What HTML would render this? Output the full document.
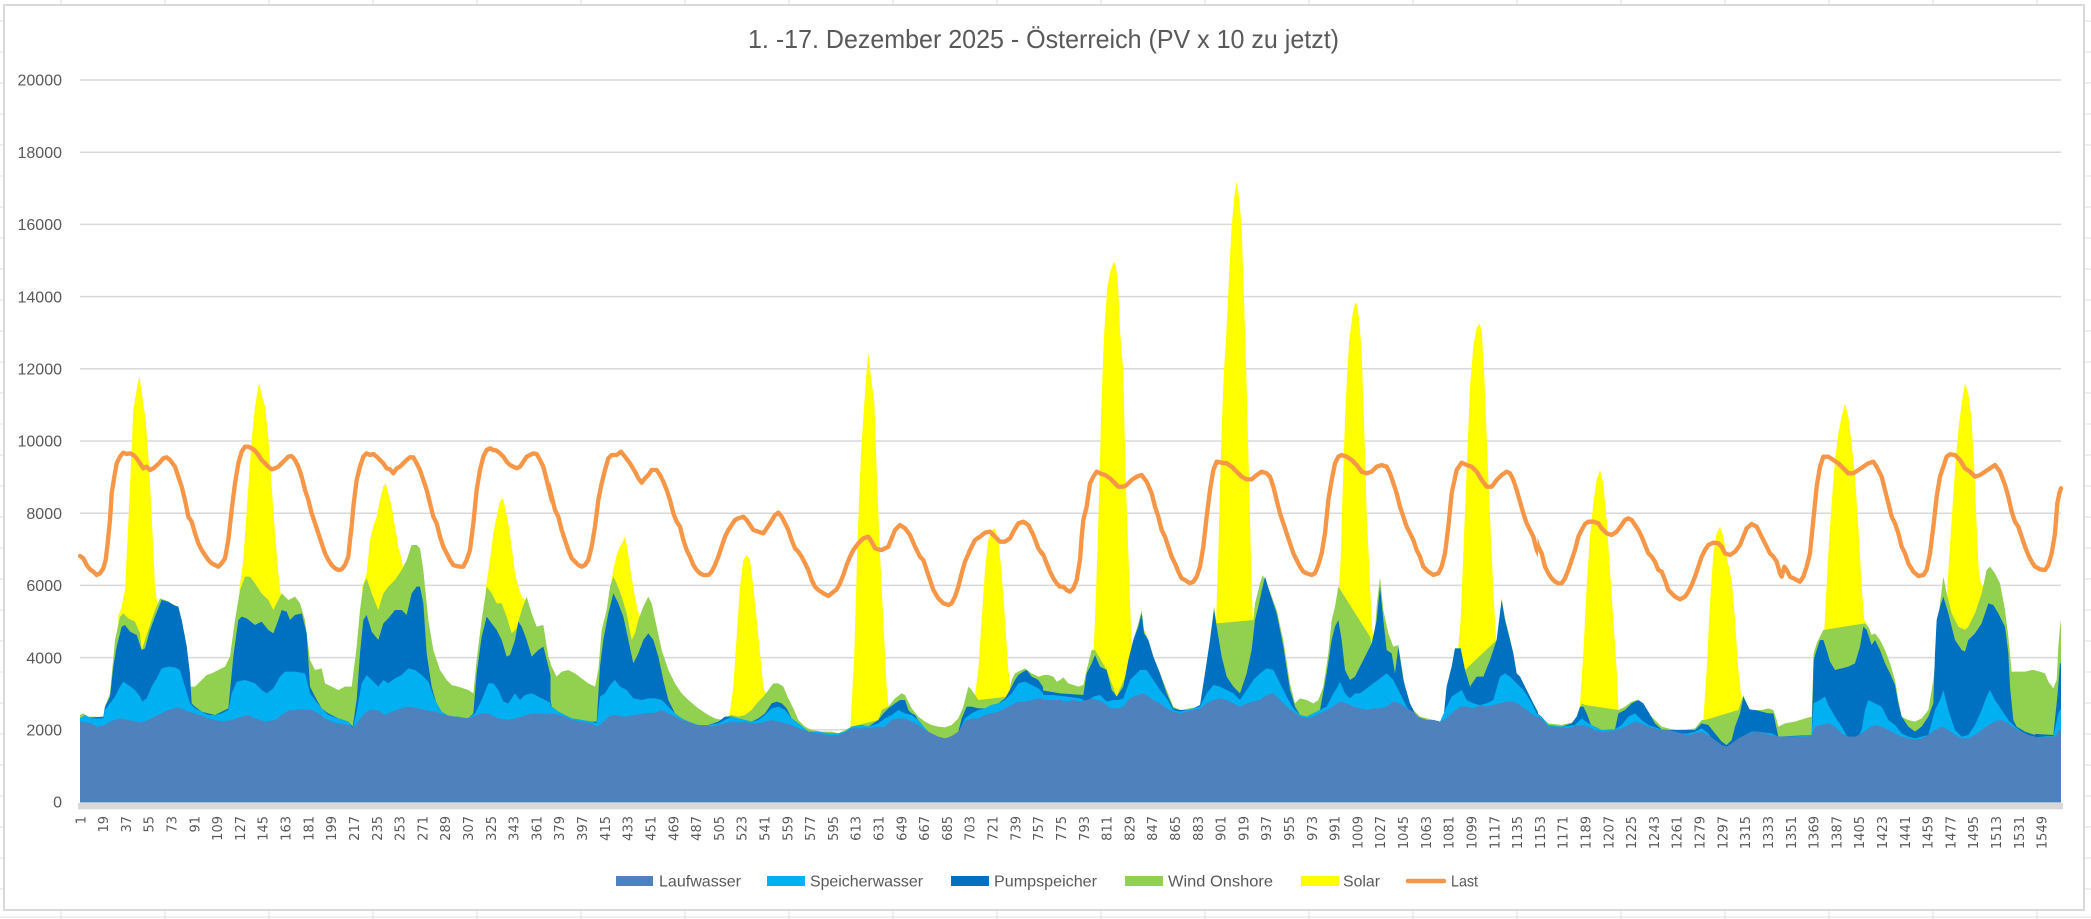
<!DOCTYPE html>
<html><head><meta charset="utf-8"><style>
html,body{margin:0;padding:0;background:#fff;}
svg{display:block;}
.yl{font-family:"Liberation Sans",sans-serif;font-size:16px;fill:#595959;text-anchor:end;}
.xl text{font-family:"DejaVu Sans","Liberation Sans",sans-serif;font-size:13px;fill:#595959;text-anchor:end;}
.lg{font-family:"Liberation Sans",sans-serif;font-size:16px;fill:#595959;}
</style></head><body>
<svg width="2091" height="919" viewBox="0 0 2091 919" xmlns="http://www.w3.org/2000/svg">
<defs>
<clipPath id="cA" clipPathUnits="userSpaceOnUse"><rect x="78" y="0" width="472.5" height="919"/></clipPath>
<clipPath id="cB" clipPathUnits="userSpaceOnUse"><rect x="550" y="0" width="493" height="919"/></clipPath>
<clipPath id="cC" clipPathUnits="userSpaceOnUse"><rect x="1042.5" y="0" width="495.5" height="919"/></clipPath>
<clipPath id="cD" clipPathUnits="userSpaceOnUse"><rect x="1537.5" y="0" width="498" height="919"/></clipPath>
<clipPath id="cE" clipPathUnits="userSpaceOnUse"><rect x="2035" y="0" width="30" height="919"/></clipPath>
</defs>
<!-- spreadsheet grid -->
<g stroke="#e1e1e1" stroke-width="1">
<line x1="61" y1="0" x2="61" y2="919"/><line x1="165" y1="0" x2="165" y2="919"/><line x1="269" y1="0" x2="269" y2="919"/><line x1="373" y1="0" x2="373" y2="919"/><line x1="477" y1="0" x2="477" y2="919"/><line x1="581" y1="0" x2="581" y2="919"/><line x1="685" y1="0" x2="685" y2="919"/><line x1="789" y1="0" x2="789" y2="919"/><line x1="893" y1="0" x2="893" y2="919"/><line x1="997" y1="0" x2="997" y2="919"/><line x1="1101" y1="0" x2="1101" y2="919"/><line x1="1205" y1="0" x2="1205" y2="919"/><line x1="1309" y1="0" x2="1309" y2="919"/><line x1="1413" y1="0" x2="1413" y2="919"/><line x1="1517" y1="0" x2="1517" y2="919"/><line x1="1621" y1="0" x2="1621" y2="919"/><line x1="1725" y1="0" x2="1725" y2="919"/><line x1="1829" y1="0" x2="1829" y2="919"/><line x1="1933" y1="0" x2="1933" y2="919"/><line x1="2037" y1="0" x2="2037" y2="919"/>
<line x1="0" y1="21" x2="2091" y2="21"/><line x1="0" y1="52" x2="2091" y2="52"/><line x1="0" y1="83" x2="2091" y2="83"/><line x1="0" y1="114" x2="2091" y2="114"/><line x1="0" y1="145" x2="2091" y2="145"/><line x1="0" y1="176" x2="2091" y2="176"/><line x1="0" y1="207" x2="2091" y2="207"/><line x1="0" y1="238" x2="2091" y2="238"/><line x1="0" y1="269" x2="2091" y2="269"/><line x1="0" y1="300" x2="2091" y2="300"/><line x1="0" y1="331" x2="2091" y2="331"/><line x1="0" y1="362" x2="2091" y2="362"/><line x1="0" y1="393" x2="2091" y2="393"/><line x1="0" y1="424" x2="2091" y2="424"/><line x1="0" y1="455" x2="2091" y2="455"/><line x1="0" y1="486" x2="2091" y2="486"/><line x1="0" y1="517" x2="2091" y2="517"/><line x1="0" y1="548" x2="2091" y2="548"/><line x1="0" y1="579" x2="2091" y2="579"/><line x1="0" y1="610" x2="2091" y2="610"/><line x1="0" y1="641" x2="2091" y2="641"/><line x1="0" y1="672" x2="2091" y2="672"/><line x1="0" y1="703" x2="2091" y2="703"/><line x1="0" y1="734" x2="2091" y2="734"/><line x1="0" y1="765" x2="2091" y2="765"/><line x1="0" y1="796" x2="2091" y2="796"/><line x1="0" y1="827" x2="2091" y2="827"/><line x1="0" y1="858" x2="2091" y2="858"/><line x1="0" y1="889" x2="2091" y2="889"/><line x1="0" y1="917" x2="2091" y2="917"/>
</g>
<!-- chart frame -->
<rect x="4" y="5" width="2080" height="905" fill="#fff" stroke="#d9d9d9" stroke-width="2"/>
<!-- title -->
<text x="748" y="48" font-family="Liberation Sans, sans-serif" font-size="26" fill="#595959" textLength="591" lengthAdjust="spacingAndGlyphs">1. -17. Dezember 2025 - Österreich (PV x 10 zu jetzt)</text>
<!-- gridlines -->
<g stroke="#d9d9d9" stroke-width="1.5">
<line x1="80" y1="729.8" x2="2061" y2="729.8"/><line x1="80" y1="657.6" x2="2061" y2="657.6"/><line x1="80" y1="585.4" x2="2061" y2="585.4"/><line x1="80" y1="513.2" x2="2061" y2="513.2"/><line x1="80" y1="441" x2="2061" y2="441"/><line x1="80" y1="368.8" x2="2061" y2="368.8"/><line x1="80" y1="296.6" x2="2061" y2="296.6"/><line x1="80" y1="224.4" x2="2061" y2="224.4"/><line x1="80" y1="152.2" x2="2061" y2="152.2"/><line x1="80" y1="80" x2="2061" y2="80"/>
</g>
<!-- y labels -->
<text class="yl" x="62" y="807.7">0</text>
<text class="yl" x="62" y="735.5">2000</text>
<text class="yl" x="62" y="663.3">4000</text>
<text class="yl" x="62" y="591.1">6000</text>
<text class="yl" x="62" y="518.9">8000</text>
<text class="yl" x="62" y="446.7">10000</text>
<text class="yl" x="62" y="374.5">12000</text>
<text class="yl" x="62" y="302.3">14000</text>
<text class="yl" x="62" y="230.1">16000</text>
<text class="yl" x="62" y="157.9">18000</text>
<text class="yl" x="62" y="85.7">20000</text>

<!-- ===== SOLAR ===== -->
<g fill="#FFFF00">
<g clip-path="url(#cA)"><g transform="translate(55 320) scale(0.333333)">
<polygon points="190,1447 190,890 200,860 210,810 218,650 225,500 235,270 245,210 253,168 262,230 272,300 283,450 293,650 300,800 308,860 314,880 314,1447"/>
<polygon points="553,1447 553,810 565,720 580,500 590,360 600,260 612,188 622,230 630,260 640,350 650,500 660,640 670,760 677,820 683,860 683,1447"/>
<polygon points="922,1447 922,800 935,760 945,660 955,620 965,590 975,540 985,500 992,490 1000,520 1010,560 1020,620 1030,680 1040,720 1048,760 1048,1447"/>
<polygon points="1293,1447 1293,800 1305,720 1315,640 1325,590 1335,545 1343,535 1350,560 1360,610 1370,680 1380,760 1390,800 1400,830 1410,840 1410,1447"/>
</g></g>
<g clip-path="url(#cB)"><g transform="translate(545 320) scale(0.333333)">
<polygon points="198,1447 198,790 205,750 215,705 225,680 233,668 240,648 248,690 258,760 268,820 278,870 290,905 290,1447"/>
<polygon points="553,1447 553,1190 565,1100 575,950 585,800 595,720 605,705 615,720 625,800 635,900 645,1000 655,1100 667,1140 667,1447"/>
<polygon points="916,1447 916,1225 928,1000 938,650 948,400 958,250 965,150 970,100 978,170 988,250 995,450 1005,700 1015,900 1025,1100 1033,1180 1033,1447"/>
<polygon points="1288,1447 1288,1140 1300,1050 1310,900 1320,750 1330,660 1340,630 1350,625 1360,660 1370,760 1380,900 1390,1050 1400,1125 1400,1447"/>
</g></g>
<g clip-path="url(#cC)"><g transform="translate(1040 320) scale(0.333333)">
<polygon points="160,1447 160,1000 165,900 172,700 178,500 183,300 188,150 193,30 198,-40 202,-100 205,-115 212,-150 222,-175 228,-160 233,-120 237,-50 240,30 245,100 250,150 253,300 258,500 265,700 272,900 278,1000 278,1447"/>
<polygon points="525,1447 525,1000 530,850 535,700 540,500 546,300 552,150 558,60 562,-20 568,-150 575,-280 583,-370 590,-415 597,-370 605,-280 610,-120 615,30 620,200 625,400 630,600 635,800 640,930 643,960 643,1447"/>
<polygon points="893,1447 893,870 897,800 903,700 905,610 910,450 915,300 922,150 928,60 932,30 938,-20 945,-50 950,-50 955,-20 960,30 965,100 970,250 975,400 980,580 988,750 995,900 1003,1000 1010,1050 1010,1447"/>
<polygon points="1255,1447 1255,980 1262,900 1270,700 1280,450 1290,200 1300,80 1310,25 1318,10 1325,30 1332,150 1340,350 1348,550 1355,700 1362,850 1368,950 1375,1020 1380,1060 1380,1447"/>
</g></g>
<g clip-path="url(#cD)"><g transform="translate(1535 320) scale(0.333333)">
<polygon points="135,1447 135,1150 145,1000 155,800 165,650 175,550 185,480 195,450 205,490 215,600 225,750 235,900 245,1050 252,1200 252,1447"/>
<polygon points="505,1447 505,1200 515,1050 525,850 535,700 545,640 555,620 565,650 575,710 590,780 600,900 610,1050 620,1140 620,1447"/>
<polygon points="868,1447 868,930 880,700 890,550 900,420 910,340 920,290 930,250 940,290 950,370 960,470 970,620 980,800 988,900 995,910 995,1447"/>
<polygon points="1237,1447 1237,800 1250,600 1260,450 1270,330 1280,250 1290,190 1300,220 1310,300 1318,450 1325,620 1332,760 1340,800 1350,790 1350,1447"/>
</g></g>
</g>

<!-- ===== WIND ===== -->
<g fill="#92D050">
<g clip-path="url(#cA)"><g transform="translate(55 320) scale(0.333333)">
<polygon points="75,1185 85,1180 100,1190 120,1190 145,1195 150,1160 165,1120 180,960 195,890 205,880 220,895 240,905 255,940 260,990 280,930 300,870 315,835 330,840 350,850 365,860 380,900 395,975 405,1100 420,1100 440,1080 455,1065 470,1060 490,1050 510,1040 525,1010 540,900 555,810 570,770 585,770 600,790 620,820 640,840 655,870 670,840 680,820 700,840 720,830 735,850 750,900 765,1020 780,1050 800,1045 810,1090 830,1100 850,1110 870,1100 890,1100 905,980 915,870 925,795 935,775 950,820 970,870 985,820 1000,800 1020,780 1040,750 1055,720 1070,675 1085,675 1095,685 1105,750 1120,900 1135,990 1155,1050 1175,1080 1190,1095 1210,1100 1240,1110 1255,1120 1265,1020 1280,900 1295,800 1310,820 1325,850 1340,850 1355,890 1370,940 1385,925 1400,870 1415,830 1430,880 1445,920 1465,915 1480,1010 1495,1050 1500,1060 1500,1447 75,1447"/>
</g></g>
<g clip-path="url(#cB)"><g transform="translate(545 320) scale(0.333333)">
<polygon points="0,940 10,1015 20,1040 35,1070 50,1055 70,1050 90,1060 110,1075 130,1090 150,1100 160,1050 170,930 185,870 195,800 205,770 215,790 230,830 245,880 260,960 270,940 280,900 295,860 310,830 320,850 335,920 350,990 370,1050 390,1090 410,1120 430,1140 460,1165 490,1185 510,1195 530,1200 545,1190 560,1185 580,1190 600,1185 620,1170 640,1145 655,1130 670,1110 685,1090 700,1090 715,1100 730,1135 745,1165 760,1200 780,1220 800,1230 830,1235 860,1235 880,1240 900,1230 920,1220 1000,1200 1010,1170 1030,1160 1050,1135 1070,1120 1080,1125 1100,1165 1120,1190 1140,1205 1160,1215 1180,1220 1200,1222 1220,1215 1240,1195 1255,1160 1270,1100 1280,1110 1290,1125 1300,1140 1390,1130 1400,1080 1410,1060 1420,1055 1440,1045 1460,1060 1480,1070 1500,1065 1500,1447 0,1447"/>
</g></g>
<g clip-path="url(#cC)"><g transform="translate(1040 320) scale(0.333333)">
<polygon points="0,1070 10,1065 25,1065 40,1070 50,1085 60,1080 70,1072 85,1090 100,1095 115,1100 130,1095 140,1050 155,990 165,990 200,1050 230,1130 260,1060 270,1020 280,960 295,910 305,870 312,930 325,960 340,1010 360,1060 380,1110 400,1160 420,1170 480,1160 495,1060 510,960 522,860 530,910 640,900 645,850 660,790 668,765 690,815 710,870 730,960 750,1090 765,1150 780,1135 800,1140 820,1150 835,1140 850,1100 865,1000 875,900 885,860 895,800 990,950 1000,1000 1010,860 1020,770 1030,870 1045,940 1060,980 1075,975 1090,1070 1100,1130 1120,1170 1140,1190 1200,1205 1210,1200 1220,1100 1235,1040 1245,985 1262,985 1275,1050 1370,960 1385,835 1395,895 1410,955 1420,1000 1430,1060 1440,1070 1460,1110 1480,1150 1500,1185 1500,1447 0,1447"/>
</g></g>
<g clip-path="url(#cD)"><g transform="translate(1535 320) scale(0.333333)">
<polygon points="0,1175 40,1210 80,1215 120,1205 140,1150 150,1155 250,1170 270,1160 290,1145 305,1140 320,1155 340,1180 360,1200 380,1220 400,1225 420,1230 440,1232 460,1228 480,1225 500,1200 510,1200 610,1170 625,1125 640,1165 660,1170 680,1170 700,1165 715,1170 725,1200 730,1220 750,1210 780,1205 810,1195 830,1190 836,1000 845,970 855,950 865,930 990,910 1000,920 1010,945 1020,940 1035,960 1050,990 1065,1030 1080,1080 1090,1140 1100,1190 1120,1200 1140,1205 1160,1195 1180,1170 1195,1080 1205,980 1215,850 1225,770 1235,820 1250,880 1270,920 1290,930 1300,920 1320,880 1340,820 1355,750 1365,740 1380,760 1395,790 1410,870 1420,950 1430,1055 1450,1055 1470,1055 1490,1050 1500,1050 1500,1447 0,1447"/>
</g></g>
<g clip-path="url(#cE)"><g transform="translate(1960 330) scale(0.333333)">
<polygon points="200,1025 220,1020 240,1025 255,1030 265,1055 280,1075 290,1050 295,950 300,890 303,870 303,1417 200,1417"/>
</g></g>
</g>

<!-- ===== PUMPSPEICHER ===== -->
<g fill="#0070C0">
<g clip-path="url(#cA)"><g transform="translate(55 320) scale(0.333333)">
<polygon points="75,1195 145,1190 150,1160 165,1130 175,1040 185,980 200,920 210,915 225,935 245,945 260,990 270,985 285,930 300,890 320,840 340,845 355,855 370,860 380,900 395,980 405,1060 410,1150 420,1160 440,1175 460,1180 480,1185 500,1175 520,1165 535,1010 550,900 560,890 575,895 600,915 620,905 640,930 655,940 670,900 680,870 695,875 705,900 720,885 740,880 755,940 765,1100 780,1130 800,1165 820,1180 850,1195 880,1205 893,1220 905,1140 915,1000 925,900 935,885 950,935 970,960 985,910 1000,895 1020,870 1040,870 1055,885 1070,820 1085,800 1095,800 1105,850 1115,1000 1130,1100 1150,1170 1170,1190 1200,1190 1240,1195 1255,1180 1265,1060 1280,950 1295,890 1310,910 1325,930 1340,960 1355,1010 1365,1005 1380,960 1390,905 1400,920 1415,960 1430,1010 1450,990 1465,980 1480,1040 1490,1080 1500,1100 1500,1447 75,1447"/>
</g></g>
<g clip-path="url(#cB)"><g transform="translate(545 320) scale(0.333333)">
<polygon points="0,1080 10,1100 20,1160 40,1175 60,1185 80,1195 110,1200 140,1205 155,1205 165,1040 175,960 190,880 205,820 220,850 235,890 250,960 265,1030 280,1000 295,960 310,940 325,960 340,1010 355,1080 370,1140 390,1180 410,1195 430,1205 460,1215 490,1215 520,1205 540,1190 560,1190 580,1195 600,1200 620,1205 640,1195 660,1180 680,1150 695,1145 710,1150 725,1165 740,1195 760,1210 790,1235 820,1235 850,1240 880,1240 900,1235 920,1220 950,1215 970,1220 1000,1200 1015,1180 1030,1165 1050,1150 1065,1140 1080,1140 1090,1170 1100,1180 1110,1185 1120,1200 1140,1225 1160,1245 1180,1262 1200,1262 1220,1255 1240,1235 1250,1195 1265,1160 1280,1160 1300,1165 1320,1165 1340,1155 1360,1150 1380,1135 1400,1100 1410,1080 1420,1065 1435,1055 1445,1050 1460,1070 1480,1080 1500,1110 1500,1447 0,1447"/>
</g></g>
<g clip-path="url(#cC)"><g transform="translate(1040 320) scale(0.333333)">
<polygon points="0,1110 60,1120 130,1125 140,1060 155,1030 165,1005 180,1040 200,1050 215,1110 230,1130 250,1100 265,1020 280,960 295,920 305,880 312,940 325,960 340,1010 360,1060 380,1120 400,1165 420,1170 440,1170 460,1165 480,1155 495,1060 510,960 522,870 530,920 545,1010 560,1070 580,1100 600,1120 620,1060 635,990 645,900 655,860 668,800 675,770 690,820 710,880 730,980 750,1110 765,1160 780,1185 800,1190 820,1180 840,1170 860,1060 875,960 885,920 895,900 905,960 915,1050 930,1080 945,1070 960,1040 980,1000 995,970 1010,900 1020,800 1030,900 1040,990 1055,1000 1065,1060 1075,980 1090,1080 1110,1150 1130,1190 1160,1200 1180,1200 1200,1205 1210,1200 1220,1100 1235,1040 1245,985 1262,985 1275,1050 1290,1100 1310,1070 1330,1070 1350,1020 1370,960 1385,840 1395,900 1410,960 1420,1000 1430,1060 1440,1070 1460,1110 1480,1150 1500,1190 1500,1447 0,1447"/>
</g></g>
<g clip-path="url(#cD)"><g transform="translate(1535 320) scale(0.333333)">
<polygon points="0,1175 20,1190 40,1215 80,1220 110,1210 125,1190 135,1160 145,1160 155,1180 170,1220 200,1230 240,1228 250,1180 270,1170 290,1150 310,1140 325,1150 340,1175 360,1210 380,1228 400,1230 480,1230 500,1210 520,1215 540,1240 560,1265 575,1275 590,1260 600,1220 615,1180 625,1130 635,1150 645,1170 660,1170 680,1175 700,1180 715,1180 730,1250 830,1245 836,1020 845,990 855,960 865,960 875,990 885,1025 900,1050 920,1045 940,1040 960,1030 975,980 985,920 995,930 1010,975 1020,960 1035,990 1050,1030 1065,1060 1080,1095 1090,1150 1100,1190 1120,1220 1140,1235 1160,1220 1180,1190 1195,1150 1200,1000 1205,900 1215,860 1225,830 1240,880 1260,960 1280,990 1290,995 1300,960 1320,940 1340,910 1360,850 1375,855 1390,880 1400,900 1410,920 1420,1000 1425,1100 1435,1200 1445,1220 1470,1235 1500,1245 1500,1447 0,1447"/>
</g></g>
<g clip-path="url(#cE)"><g transform="translate(1960 330) scale(0.333333)">
<polygon points="200,1210 280,1215 292,1100 300,1000 303,1000 303,1417 200,1417"/>
</g></g>
</g>

<!-- ===== SPEICHERWASSER ===== -->
<g fill="#00B0F0">
<g clip-path="url(#cA)"><g transform="translate(55 320) scale(0.333333)">
<polygon points="75,1195 90,1185 110,1195 145,1195 150,1170 165,1150 180,1130 195,1100 205,1085 220,1095 240,1110 255,1130 262,1145 275,1135 290,1100 305,1075 320,1045 340,1040 360,1042 375,1050 390,1100 405,1150 420,1165 440,1175 460,1185 480,1185 500,1180 520,1170 530,1120 545,1085 570,1080 600,1090 620,1110 635,1120 655,1105 675,1070 690,1055 720,1055 750,1060 765,1120 780,1140 800,1165 820,1185 850,1195 880,1205 893,1225 905,1175 920,1090 935,1065 950,1080 970,1100 985,1080 1000,1090 1020,1075 1040,1065 1060,1045 1080,1050 1100,1065 1120,1085 1140,1140 1160,1175 1185,1190 1210,1190 1240,1195 1260,1180 1280,1140 1300,1090 1315,1090 1330,1110 1345,1145 1360,1150 1380,1120 1395,1140 1410,1125 1430,1120 1450,1130 1470,1140 1490,1150 1500,1155 1500,1447 75,1447"/>
</g></g>
<g clip-path="url(#cB)"><g transform="translate(545 320) scale(0.333333)">
<polygon points="0,1140 20,1160 40,1175 60,1185 80,1195 110,1200 140,1205 155,1210 165,1130 180,1120 195,1095 210,1080 225,1100 245,1110 265,1135 290,1140 310,1135 330,1135 350,1140 370,1160 390,1180 410,1195 430,1205 460,1215 490,1215 520,1210 540,1200 560,1190 580,1195 600,1200 620,1205 640,1200 660,1185 680,1165 700,1160 720,1170 740,1195 760,1210 790,1235 820,1235 850,1240 880,1240 900,1235 920,1220 950,1215 970,1220 1000,1210 1020,1195 1040,1185 1060,1170 1080,1180 1100,1185 1120,1200 1140,1225 1160,1245 1180,1262 1200,1262 1220,1255 1240,1240 1260,1195 1280,1180 1300,1170 1320,1165 1340,1155 1360,1150 1380,1140 1400,1120 1420,1090 1440,1085 1460,1095 1480,1105 1500,1125 1500,1447 0,1447"/>
</g></g>
<g clip-path="url(#cC)"><g transform="translate(1040 320) scale(0.333333)">
<polygon points="0,1125 40,1125 80,1130 120,1135 140,1145 160,1130 180,1125 200,1145 220,1140 235,1140 250,1135 270,1080 290,1060 300,1050 320,1050 340,1080 360,1110 380,1135 400,1170 420,1175 440,1170 460,1165 480,1160 500,1120 520,1095 540,1100 560,1110 580,1120 600,1140 620,1110 640,1080 660,1060 680,1045 700,1050 720,1090 740,1130 760,1165 780,1185 800,1190 820,1180 840,1170 860,1160 880,1120 890,1105 900,1085 915,1120 930,1135 945,1120 960,1120 980,1105 1000,1090 1020,1075 1040,1060 1060,1080 1080,1120 1100,1160 1120,1185 1140,1195 1160,1200 1180,1200 1200,1205 1220,1160 1235,1130 1250,1120 1265,1110 1280,1140 1300,1150 1320,1155 1340,1150 1360,1140 1380,1070 1395,1060 1410,1070 1430,1090 1450,1110 1470,1140 1490,1180 1500,1190 1500,1447 0,1447"/>
</g></g>
<g clip-path="url(#cD)"><g transform="translate(1535 320) scale(0.333333)">
<polygon points="0,1180 20,1190 40,1215 80,1220 120,1215 130,1205 140,1195 160,1210 180,1220 200,1230 220,1230 240,1228 260,1215 280,1190 300,1180 320,1200 340,1215 360,1222 380,1228 400,1230 420,1235 440,1240 460,1240 480,1235 500,1225 520,1240 540,1270 560,1285 575,1290 590,1280 610,1260 630,1245 650,1235 670,1235 690,1238 710,1240 730,1250 750,1250 800,1248 830,1245 836,1150 855,1140 870,1130 880,1155 900,1190 920,1220 940,1255 960,1265 980,1230 990,1170 1000,1140 1020,1150 1040,1160 1060,1200 1080,1215 1100,1240 1120,1250 1140,1255 1160,1250 1180,1245 1200,1170 1215,1140 1225,1110 1240,1170 1260,1230 1280,1250 1300,1245 1320,1215 1340,1170 1355,1130 1365,1110 1380,1140 1400,1170 1420,1200 1440,1220 1460,1235 1480,1245 1500,1250 1500,1447 0,1447"/>
</g></g>
<g clip-path="url(#cE)"><g transform="translate(1960 330) scale(0.333333)">
<polygon points="200,1215 230,1222 260,1218 280,1218 295,1150 303,1135 303,1417 200,1417"/>
</g></g>
</g>

<!-- ===== LAUFWASSER ===== -->
<g fill="#4F81BD">
<g clip-path="url(#cA)"><g transform="translate(55 320) scale(0.333333)">
<polygon points="75,1205 110,1210 125,1220 150,1215 165,1205 195,1195 220,1200 245,1205 260,1208 280,1200 300,1190 320,1180 340,1170 360,1165 370,1162 385,1168 400,1175 420,1180 440,1188 460,1195 480,1200 500,1205 530,1200 560,1190 580,1185 600,1195 630,1205 660,1200 680,1185 700,1172 740,1168 770,1170 790,1180 810,1195 830,1205 860,1212 880,1215 893,1225 905,1210 920,1190 935,1175 950,1168 970,1172 990,1185 1010,1175 1040,1165 1060,1160 1090,1165 1110,1170 1140,1175 1170,1185 1200,1190 1230,1195 1250,1192 1280,1180 1300,1180 1330,1195 1360,1200 1400,1190 1430,1180 1470,1182 1500,1185 1500,1447 75,1447"/>
</g></g>
<g clip-path="url(#cB)"><g transform="translate(545 320) scale(0.333333)">
<polygon points="0,1180 30,1182 60,1190 80,1200 110,1205 140,1210 155,1220 170,1210 190,1190 210,1185 240,1190 270,1185 300,1180 330,1178 350,1170 370,1180 390,1190 410,1200 430,1205 450,1215 480,1215 500,1220 520,1215 540,1210 560,1205 580,1208 600,1205 620,1210 640,1210 660,1205 680,1200 700,1205 720,1210 740,1215 760,1225 790,1235 820,1240 850,1245 880,1245 900,1238 920,1225 950,1225 970,1225 1000,1220 1020,1220 1040,1200 1060,1195 1080,1195 1100,1205 1120,1215 1140,1230 1160,1240 1180,1250 1200,1255 1220,1248 1240,1235 1260,1205 1280,1195 1300,1195 1320,1185 1340,1180 1360,1175 1380,1165 1400,1155 1420,1145 1440,1145 1460,1140 1480,1135 1500,1135 1500,1447 0,1447"/>
</g></g>
<g clip-path="url(#cC)"><g transform="translate(1040 320) scale(0.333333)">
<polygon points="0,1140 20,1140 40,1140 60,1140 80,1145 100,1140 120,1145 140,1140 155,1135 170,1140 185,1145 200,1155 210,1165 220,1165 235,1165 250,1160 265,1140 280,1130 295,1125 310,1120 325,1130 340,1140 360,1150 380,1165 400,1175 420,1180 440,1175 460,1170 480,1165 500,1150 520,1140 540,1135 560,1140 580,1150 600,1160 620,1150 640,1145 660,1140 680,1125 700,1120 720,1140 740,1160 760,1175 780,1190 800,1195 820,1190 840,1180 860,1170 880,1160 900,1145 920,1150 940,1160 960,1165 980,1170 1000,1165 1020,1165 1040,1160 1060,1145 1080,1150 1100,1165 1120,1175 1140,1195 1160,1200 1180,1200 1200,1205 1220,1195 1240,1175 1260,1160 1280,1160 1300,1165 1320,1155 1340,1160 1360,1155 1380,1150 1400,1145 1420,1145 1440,1155 1460,1170 1480,1185 1500,1195 1500,1447 0,1447"/>
</g></g>
<g clip-path="url(#cD)"><g transform="translate(1535 320) scale(0.333333)">
<polygon points="0,1185 20,1195 40,1220 60,1220 80,1222 100,1225 120,1218 140,1215 160,1220 180,1230 200,1235 220,1235 240,1230 260,1225 280,1215 300,1205 320,1210 340,1220 360,1225 380,1230 400,1230 420,1235 440,1240 460,1245 480,1240 500,1235 520,1245 540,1260 560,1275 575,1280 590,1270 610,1255 630,1245 650,1238 670,1235 690,1240 710,1245 730,1250 750,1250 770,1250 790,1250 810,1250 830,1248 840,1220 860,1215 880,1210 900,1220 920,1240 940,1250 960,1250 980,1240 1000,1225 1020,1215 1040,1220 1060,1230 1080,1240 1100,1250 1120,1255 1140,1258 1160,1255 1180,1245 1200,1230 1220,1220 1240,1230 1260,1245 1280,1255 1300,1255 1320,1245 1340,1230 1360,1215 1380,1205 1400,1200 1420,1210 1440,1225 1460,1235 1480,1245 1500,1250 1500,1447 0,1447"/>
</g></g>
<g clip-path="url(#cE)"><g transform="translate(1960 330) scale(0.333333)">
<polygon points="200,1215 230,1222 260,1220 280,1220 290,1215 295,1200 303,1200 303,1417 200,1417"/>
</g></g>
</g>

<!-- x axis band -->
<rect x="78" y="803" width="1985" height="6.3" fill="#d9d9d9"/>

<!-- ===== LAST ===== -->
<g fill="none" stroke="#F79646" stroke-width="13" stroke-linejoin="round" stroke-linecap="round">
<g clip-path="url(#cA)"><g transform="translate(55 320) scale(0.333333)">
<polyline points="75,708 85,715 95,735 105,748 115,755 125,765 135,760 145,745 152,720 158,670 165,600 170,520 178,470 185,430 195,410 205,398 215,402 225,400 235,405 245,415 255,430 265,445 275,440 285,450 295,445 310,432 325,415 335,412 345,420 360,440 370,470 380,500 390,540 400,590 410,605 420,640 430,670 440,690 450,705 460,720 470,730 480,735 490,740 500,730 510,715 520,660 530,570 540,490 550,430 560,395 570,380 580,380 590,385 600,392 610,405 620,420 630,430 640,440 650,448 660,445 670,440 680,430 690,420 700,410 710,408 720,420 730,440 740,470 750,510 760,540 770,580 780,610 790,640 800,670 810,700 820,720 830,735 840,745 850,750 860,748 870,735 880,710 885,660 890,620 895,560 905,480 915,440 925,410 935,400 945,405 955,402 965,410 975,420 985,430 995,445 1005,448 1015,460 1025,445 1035,440 1045,430 1055,420 1065,412 1075,412 1085,430 1095,450 1105,480 1115,510 1125,550 1135,590 1145,610 1155,650 1165,680 1175,700 1185,720 1195,735 1205,738 1215,740 1225,740 1235,720 1245,690 1255,610 1265,510 1275,450 1285,410 1295,390 1305,385 1315,390 1325,392 1335,400 1345,410 1355,425 1365,435 1375,440 1385,445 1395,440 1405,425 1415,410 1425,405 1435,400 1445,402 1455,420 1465,440 1475,480 1485,520 1495,560 1500,580"/>
</g></g>
<g clip-path="url(#cB)"><g transform="translate(545 320) scale(0.333333)">
<polyline points="0,450 10,490 20,530 30,570 40,590 50,630 60,660 70,690 80,715 90,725 100,735 110,740 120,735 130,720 140,680 150,620 160,540 170,490 180,450 190,415 200,405 215,405 228,395 240,410 255,430 270,455 280,475 290,488 300,475 310,465 320,450 335,450 345,465 355,485 365,510 375,540 385,580 395,605 405,620 415,660 425,690 435,710 445,735 455,750 465,760 475,765 490,765 500,755 510,735 520,710 530,680 540,650 550,630 560,615 570,600 580,595 595,590 605,600 615,615 625,630 640,635 655,640 665,625 675,610 690,585 700,578 710,590 720,610 730,630 740,660 750,685 760,695 770,710 780,730 790,750 800,780 810,800 820,810 835,820 850,828 860,820 875,808 885,790 895,765 905,735 915,710 925,690 940,670 955,655 970,650 980,665 990,685 1000,688 1010,690 1020,685 1030,680 1040,655 1050,630 1065,615 1080,625 1095,645 1110,680 1125,710 1135,720 1145,750 1155,780 1165,810 1180,835 1195,850 1210,855 1220,850 1230,830 1240,800 1250,760 1260,725 1275,690 1290,660 1305,650 1320,638 1335,635 1350,650 1365,665 1380,665 1395,655 1405,635 1420,610 1435,605 1450,615 1465,645 1480,685 1490,700 1500,710"/>
</g></g>
<g clip-path="url(#cC)"><g transform="translate(1040 320) scale(0.333333)">
<polyline points="0,690 10,705 20,730 30,755 40,775 50,790 60,800 70,800 80,810 90,815 100,805 110,780 120,720 125,650 130,600 140,560 150,490 160,470 170,455 180,460 195,465 210,475 225,490 235,500 250,500 260,495 275,480 290,470 305,465 320,485 335,520 345,560 355,590 365,630 375,650 385,680 395,710 405,730 415,755 425,775 435,780 450,790 460,785 470,770 480,740 490,680 500,590 510,510 520,450 530,425 545,428 560,430 575,440 590,455 605,470 620,478 635,478 650,465 665,455 680,460 690,470 700,500 710,540 720,580 730,610 740,640 750,670 760,700 770,720 780,740 790,755 800,760 815,765 825,760 835,735 845,700 855,640 865,540 875,480 885,430 895,410 905,405 920,410 935,420 950,435 965,455 980,460 995,455 1010,440 1025,435 1040,440 1050,460 1060,490 1070,520 1080,560 1090,590 1100,620 1110,640 1120,660 1130,690 1140,710 1150,740 1165,755 1180,765 1195,760 1205,740 1215,700 1225,620 1235,520 1250,450 1265,428 1280,435 1295,440 1310,455 1325,480 1340,500 1355,500 1370,480 1385,465 1400,455 1410,460 1420,480 1430,510 1440,545 1450,580 1460,610 1470,630 1480,650 1490,690 1500,710"/>
</g></g>
<g clip-path="url(#cD)"><g transform="translate(1535 320) scale(0.333333)">
<polyline points="0,650 10,680 20,700 30,740 40,760 50,775 60,785 70,790 80,790 90,775 100,750 110,720 120,690 130,650 140,630 150,612 160,605 175,605 190,610 200,625 215,640 230,645 245,635 260,615 270,600 280,595 290,600 300,615 310,630 320,650 330,675 340,700 350,710 360,725 370,750 380,755 390,780 400,810 410,820 420,830 435,838 450,830 460,815 470,795 480,770 490,740 500,710 510,690 520,675 535,668 550,670 560,680 570,700 585,705 600,695 615,675 625,650 635,625 650,612 665,620 675,640 685,660 695,680 705,700 715,710 725,725 735,760 740,770 748,740 755,750 765,770 775,775 785,780 795,785 805,770 815,740 825,700 835,600 845,500 855,440 865,410 880,410 895,420 910,430 925,445 940,460 955,460 970,450 985,440 1000,430 1015,425 1025,440 1040,470 1050,510 1060,550 1070,590 1080,610 1090,640 1100,680 1110,700 1120,730 1135,755 1150,768 1165,765 1175,750 1185,700 1195,620 1205,530 1215,470 1225,440 1235,410 1245,403 1260,405 1275,420 1290,445 1305,455 1320,470 1335,465 1350,455 1365,445 1380,435 1395,455 1410,495 1420,530 1430,575 1440,605 1450,620 1460,650 1470,680 1480,705 1490,725 1500,740"/>
</g></g>
<g clip-path="url(#cE)"><g transform="translate(1960 330) scale(0.333333)">
<polyline points="215,702 225,709 230,712 240,718 255,720 265,705 275,670 285,610 292,520 298,490 303,475"/>
</g></g>
</g>

<!-- x labels (rotated) -->
<g class="xl" transform="rotate(-90)">
<text x="-816" y="85.3">1</text><text x="-816" y="108.1">19</text><text x="-816" y="130.9">37</text><text x="-816" y="153.7">55</text><text x="-816" y="176.5">73</text><text x="-816" y="199.3">91</text><text x="-816" y="222.1">109</text><text x="-816" y="244.9">127</text><text x="-816" y="267.7">145</text><text x="-816" y="290.6">163</text><text x="-816" y="313.4">181</text><text x="-816" y="336.2">199</text><text x="-816" y="359">217</text><text x="-816" y="381.8">235</text><text x="-816" y="404.6">253</text><text x="-816" y="427.4">271</text><text x="-816" y="450.2">289</text><text x="-816" y="473">307</text><text x="-816" y="495.8">325</text><text x="-816" y="518.6">343</text><text x="-816" y="541.4">361</text><text x="-816" y="564.2">379</text><text x="-816" y="587">397</text><text x="-816" y="609.8">415</text><text x="-816" y="632.7">433</text><text x="-816" y="655.5">451</text><text x="-816" y="678.3">469</text><text x="-816" y="701.1">487</text><text x="-816" y="723.9">505</text><text x="-816" y="746.7">523</text><text x="-816" y="769.5">541</text><text x="-816" y="792.3">559</text><text x="-816" y="815.1">577</text><text x="-816" y="837.9">595</text><text x="-816" y="860.7">613</text><text x="-816" y="883.5">631</text><text x="-816" y="906.3">649</text><text x="-816" y="929.1">667</text><text x="-816" y="951.9">685</text><text x="-816" y="974.7">703</text><text x="-816" y="997.5">721</text><text x="-816" y="1020.3">739</text><text x="-816" y="1043.2">757</text><text x="-816" y="1066">775</text><text x="-816" y="1088.8">793</text><text x="-816" y="1111.6">811</text><text x="-816" y="1134.4">829</text><text x="-816" y="1157.2">847</text><text x="-816" y="1180">865</text><text x="-816" y="1202.8">883</text><text x="-816" y="1225.6">901</text><text x="-816" y="1248.4">919</text><text x="-816" y="1271.2">937</text><text x="-816" y="1294">955</text><text x="-816" y="1316.8">973</text><text x="-816" y="1339.6">991</text><text x="-816" y="1362.4">1009</text><text x="-816" y="1385.2">1027</text><text x="-816" y="1408">1045</text><text x="-816" y="1430.9">1063</text><text x="-816" y="1453.7">1081</text><text x="-816" y="1476.5">1099</text><text x="-816" y="1499.3">1117</text><text x="-816" y="1522.1">1135</text><text x="-816" y="1544.9">1153</text><text x="-816" y="1567.7">1171</text><text x="-816" y="1590.5">1189</text><text x="-816" y="1613.3">1207</text><text x="-816" y="1636.1">1225</text><text x="-816" y="1658.9">1243</text><text x="-816" y="1681.7">1261</text><text x="-816" y="1704.5">1279</text><text x="-816" y="1727.3">1297</text><text x="-816" y="1750.1">1315</text><text x="-816" y="1772.9">1333</text><text x="-816" y="1795.8">1351</text><text x="-816" y="1818.6">1369</text><text x="-816" y="1841.4">1387</text><text x="-816" y="1864.2">1405</text><text x="-816" y="1887">1423</text><text x="-816" y="1909.8">1441</text><text x="-816" y="1932.6">1459</text><text x="-816" y="1955.4">1477</text><text x="-816" y="1978.2">1495</text><text x="-816" y="2001">1513</text><text x="-816" y="2023.8">1531</text><text x="-816" y="2046.6">1549</text>
</g>

<!-- legend -->
<rect x="616" y="876" width="37" height="10" fill="#4F81BD"/>
<text class="lg" x="659" y="886.7" textLength="82" lengthAdjust="spacingAndGlyphs">Laufwasser</text>
<rect x="767" y="876" width="38" height="10" fill="#00B0F0"/>
<text class="lg" x="810" y="886.7" textLength="113" lengthAdjust="spacingAndGlyphs">Speicherwasser</text>
<rect x="951" y="876" width="38" height="10" fill="#0070C0"/>
<text class="lg" x="994" y="886.7" textLength="103" lengthAdjust="spacingAndGlyphs">Pumpspeicher</text>
<rect x="1125" y="876" width="38" height="10" fill="#92D050"/>
<text class="lg" x="1168" y="886.7" textLength="105" lengthAdjust="spacingAndGlyphs">Wind Onshore</text>
<rect x="1301" y="876" width="38" height="10" fill="#FFFF00"/>
<text class="lg" x="1343" y="886.7" textLength="37" lengthAdjust="spacingAndGlyphs">Solar</text>
<line x1="1408" y1="881" x2="1444" y2="881" stroke="#F79646" stroke-width="4.5" stroke-linecap="round"/>
<text class="lg" x="1451" y="886.7" textLength="27" lengthAdjust="spacingAndGlyphs">Last</text>
</svg>
</body></html>
